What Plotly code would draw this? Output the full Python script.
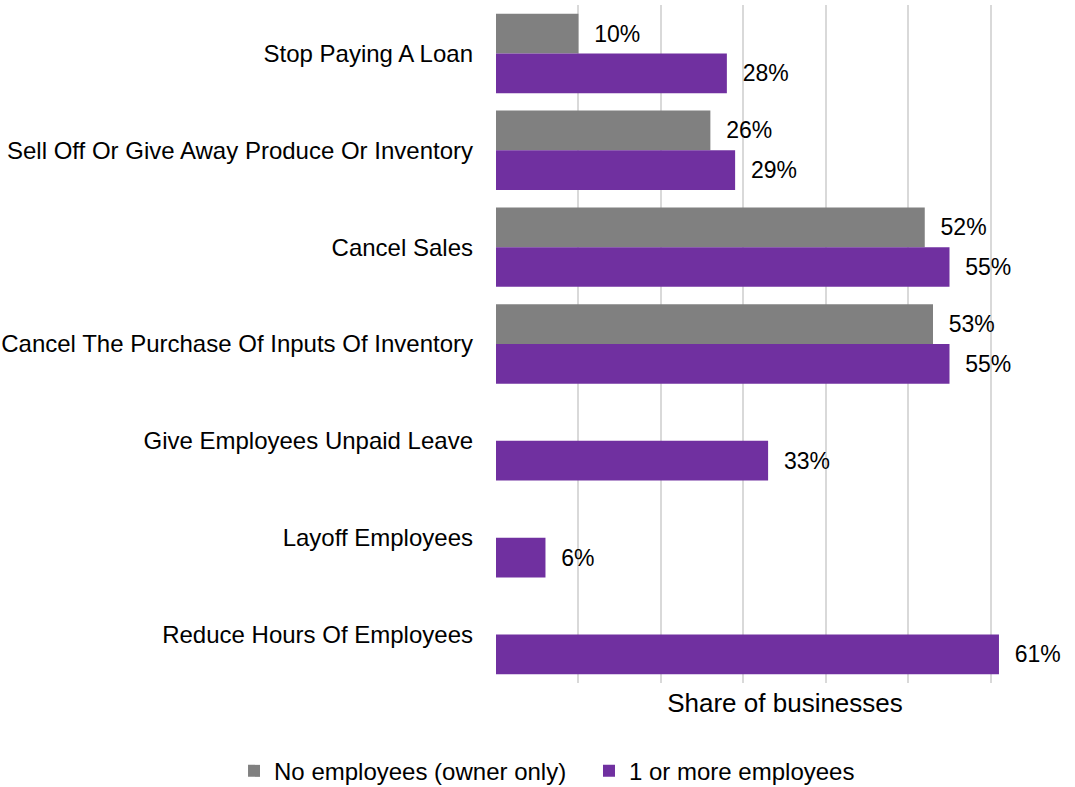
import plotly.graph_objects as go

categories = [
    "Stop Paying A Loan",
    "Sell Off Or Give Away Produce Or Inventory",
    "Cancel Sales",
    "Cancel The Purchase Of Inputs Of Inventory",
    "Give Employees Unpaid Leave",
    "Layoff Employees",
    "Reduce Hours Of Employees",
]
no_employees = [10, 26, 52, 53, None, None, None]
with_employees = [28, 29, 55, 55, 33, 6, 61]

FONT = "Liberation Sans, Arial, sans-serif"
LABEL = "\u00a0\u00a0%{x}%"

fig = go.Figure()
fig.add_trace(go.Bar(
    y=categories, x=no_employees, orientation="h",
    name="No employees (owner only)",
    marker=dict(color="#808080", line=dict(width=0)),
    texttemplate=LABEL, textposition="outside",
    textfont=dict(size=23, color="#000000", family=FONT),
    cliponaxis=False,
    legend="legend", showlegend=True,
))
fig.add_trace(go.Bar(
    y=categories, x=with_employees, orientation="h",
    name="1 or more employees",
    marker=dict(color="#7030A0", line=dict(width=0)),
    texttemplate=LABEL, textposition="outside",
    textfont=dict(size=23, color="#000000", family=FONT),
    cliponaxis=False,
    legend="legend2", showlegend=True,
))

legend_style = dict(
    orientation="h", xref="container", yref="container",
    xanchor="left", y=0.02, yanchor="middle",
    font=dict(size=24, family=FONT), itemwidth=30,
    bgcolor="rgba(0,0,0,0)", visible=True,
)

fig.update_layout(
    width=1075, height=787,
    margin=dict(l=494, r=1, t=5, b=104),
    showlegend=True,
    barmode="group",
    bargap=0.18,
    bargroupgap=0,
    plot_bgcolor="white",
    paper_bgcolor="white",
    font=dict(family=FONT, size=24, color="#000000"),
    uniformtext=dict(mode=False),
    xaxis=dict(
        range=[0, 70.1], dtick=10, showticklabels=False,
        showgrid=True, gridcolor="#d9d9d9", gridwidth=2,
        zeroline=False, showline=False,
        title=dict(text="Share of businesses", font=dict(size=26, family=FONT), standoff=10),
    ),
    yaxis=dict(
        autorange="reversed", showgrid=False, zeroline=False, showline=False,
        ticklabelstandoff=22,
        tickfont=dict(size=24, family=FONT, color="#000000"),
    ),
    legend=dict(x=0.2177, **legend_style),
    legend2=dict(x=0.5479, **legend_style),
)

fig.write_html("out.html")
